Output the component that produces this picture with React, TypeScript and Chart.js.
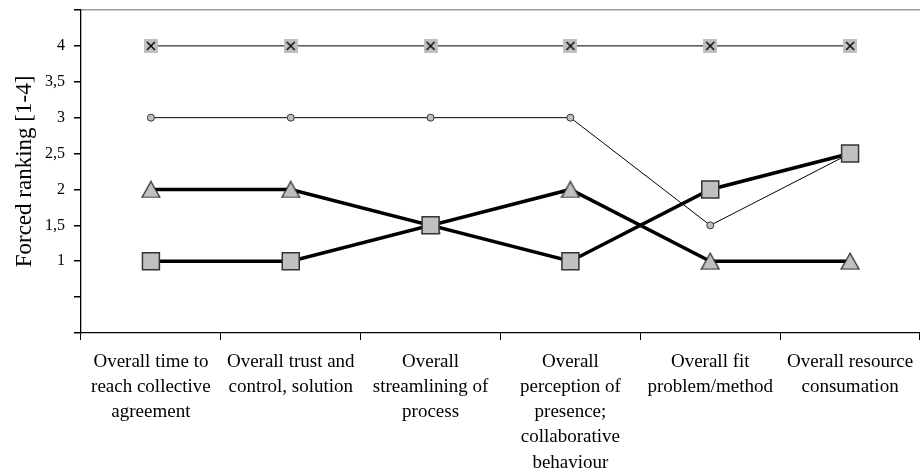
import React, { useEffect, useRef } from "react";
import { Chart, registerables } from "chart.js";
Chart.register(...registerables);

const categories: string[][] = [
  ["Overall time to", "reach collective", "agreement"],
  ["Overall trust and", "control, solution"],
  ["Overall", "streamlining of", "process"],
  ["Overall", "perception of", "presence;", "collaborative", "behaviour"],
  ["Overall fit", "problem/method"],
  ["Overall resource", "consumation"],
];
const crossSeries = [4, 4, 4, 4, 4, 4];
const circleSeries = [3, 3, 3, 3, 1.5, 2.5];
const triangleSeries = [2, 2, 1.5, 2, 1, 1];
const squareSeries = [1, 1, 1.5, 1, 2, 2.5];
const labeledTicks = [1, 1.5, 2, 2.5, 3, 3.5, 4];
const yTitle = "Forced ranking [1-4]";

const FONT = "'Liberation Serif', 'Times New Roman', serif";
const GRAY = "#c0c0c0";

function makeCross(): HTMLCanvasElement {
  const c = document.createElement("canvas");
  c.width = 14;
  c.height = 14;
  const g = c.getContext("2d")!;
  g.fillStyle = GRAY;
  g.fillRect(0, 0, 14, 14);
  g.strokeStyle = "#000";
  g.lineWidth = 1.4;
  g.beginPath();
  g.moveTo(3, 3);
  g.lineTo(11, 11);
  g.moveTo(11, 3);
  g.lineTo(3, 11);
  g.stroke();
  return c;
}

function makeTriangle(): HTMLCanvasElement {
  const c = document.createElement("canvas");
  c.width = 20;
  c.height = 18;
  const g = c.getContext("2d")!;
  g.fillStyle = GRAY;
  g.strokeStyle = "#222";
  g.lineWidth = 1.2;
  g.beginPath();
  g.moveTo(10, 1);
  g.lineTo(19, 17);
  g.lineTo(1, 17);
  g.closePath();
  g.fill();
  g.stroke();
  return c;
}

const zeroPad = (s: any) => {
  s.paddingLeft = 0;
  s.paddingRight = 0;
  s.paddingTop = 0;
  s.paddingBottom = 0;
};

export default function App() {
  const ref = useRef<HTMLCanvasElement>(null);
  useEffect(() => {
    if (!ref.current) return;
    const chart = new Chart(ref.current, {
      type: "line",
      data: {
        labels: categories as any,
        datasets: [
          {
            data: squareSeries,
            borderColor: "#000",
            borderWidth: 3.5,
            pointStyle: "rect",
            pointRadius: 12,
            pointBackgroundColor: GRAY,
            pointBorderColor: "#333",
            pointBorderWidth: 1.5,
            order: 0,
          },
          {
            data: triangleSeries,
            borderColor: "#000",
            borderWidth: 3.5,
            pointStyle: makeTriangle(),
            pointRadius: 10,
            order: 1,
          },
          {
            data: circleSeries,
            borderColor: "#000",
            borderWidth: 1,
            pointStyle: "circle",
            pointRadius: 3.5,
            pointBackgroundColor: GRAY,
            pointBorderColor: "#333",
            pointBorderWidth: 1,
            order: 2,
          },
          {
            data: crossSeries,
            borderColor: "#000",
            borderWidth: 1,
            pointStyle: makeCross(),
            pointRadius: 7,
            order: 3,
          },
        ],
      },
      options: {
        animation: false,
        responsive: false,
        layout: { autoPadding: false, padding: { top: 10, right: 0, left: 0, bottom: 0 } },
        plugins: { legend: { display: false }, tooltip: { enabled: false } },
        scales: {
          x: {
            type: "category",
            offset: true,
            grid: {
              offset: true,
              drawOnChartArea: false,
              drawTicks: true,
              tickLength: 7,
              tickColor: "#000",
            },
            border: { color: "#000", width: 1.3 },
            ticks: {
              color: "#000",
              padding: 9,
              maxRotation: 0,
              autoSkip: false,
              font: { family: FONT, size: 19, lineHeight: 1.33 },
            },
            afterFit: (s: any) => {
              s.height = 137;
              zeroPad(s);
            },
          },
          y: {
            min: 0,
            max: 4.5,
            ticks: {
              stepSize: 0.5,
              color: "#000",
              padding: 9,
              font: { family: FONT, size: 16 },
              callback: (v: any) =>
                labeledTicks.includes(Number(v)) ? String(v).replace(".", ",") : "",
            },
            grid: {
              color: (ctx: any) => (ctx.tick && ctx.tick.value === 4.5 ? "#999" : "rgba(0,0,0,0)"),
              lineWidth: 1.5,
              drawTicks: true,
              tickLength: 7,
              tickColor: "#000",
            },
            border: { color: "#000", width: 1.3 },
            title: {
              display: true,
              text: yTitle,
              color: "#000",
              font: { family: FONT, size: 23 },
              padding: { top: 11, bottom: 0 },
            },
            afterFit: (s: any) => {
              s.width = 81;
              zeroPad(s);
            },
          },
        },
      },
    });
    return () => chart.destroy();
  }, []);
  return (
    <div style={{ position: "fixed", left: 0, top: 0, width: 920, height: 470, background: "#fff", overflow: "hidden" }}>
      <canvas ref={ref} width={920} height={470} style={{ width: 920, height: 470 }} />
    </div>
  );
}
